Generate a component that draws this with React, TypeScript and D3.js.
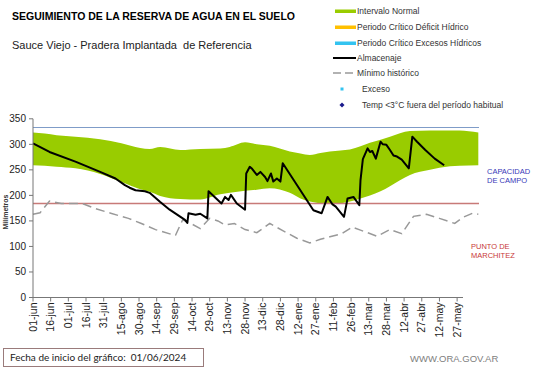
import React, { useEffect, useRef } from "react";
import * as d3 from "d3";

// Chart start date (01/06/2024)
const startDate = new Date(Date.UTC(2024, 5, 1));
const monthNames = ["ene", "feb", "mar", "abr", "may", "jun", "jul", "ago", "sep", "oct", "nov", "dic"];

// Intervalo normal (days since start, upper / lower mm)
const bandDays = [0, 10, 20, 36, 57, 75, 91, 99, 108, 125, 142, 159, 167, 180, 190, 201, 218, 227, 235, 244, 252, 261, 269, 278, 286, 295, 303, 320, 337, 345, 354, 362, 378];
const bandUpper = [323, 321, 318, 315, 310, 302, 293, 291, 295, 289, 291, 292, 295, 304, 300, 297, 286, 282, 279, 283, 286, 288, 290, 296, 303, 309, 315, 326, 327, 327, 327, 327, 323];
const bandLower = [259, 258, 256, 253, 242, 226, 212, 207, 199, 193, 192, 202, 205, 209, 211, 214, 205, 194, 188, 185, 185, 185, 188, 194, 200, 208, 218, 240, 250, 254, 257, 258, 259];

// Almacenaje
const storageDays = [0, 14, 36, 57, 70, 78, 82, 87, 95, 99, 108, 116, 129, 131, 132, 138, 142, 148, 149, 160, 163, 166, 168, 173, 180, 181, 184, 186, 190, 193, 197, 199, 202, 204, 207, 210, 212, 238, 245, 250, 254, 257, 264, 267, 272, 277, 278, 280, 284, 286, 288, 291, 295, 297, 300, 303, 306, 309, 313, 319, 322, 326, 333, 341, 349];
const storageValues = [302, 285, 266, 246, 233, 220, 215, 210, 208, 205, 187, 172, 152, 146, 165, 162, 164, 155, 208, 184, 197, 191, 201, 184, 172, 243, 256, 252, 240, 246, 236, 228, 243, 227, 233, 227, 263, 171, 165, 197, 183, 178, 158, 194, 197, 181, 230, 271, 292, 285, 287, 272, 305, 300, 299, 289, 278, 276, 270, 253, 315, 305, 289, 272, 259];

// Minimo historico
const minDays = [0, 6, 14, 24, 42, 53, 66, 81, 92, 104, 117, 121, 127, 134, 142, 150, 157, 163, 171, 180, 190, 201, 212, 224, 235, 244, 252, 262, 271, 278, 292, 303, 313, 323, 334, 345, 358, 365, 373, 378];
const minValues = [163, 166, 189, 184, 184, 174, 165, 155, 145, 133, 124, 122, 152, 145, 135, 155, 150, 142, 145, 133, 127, 145, 131, 116, 107, 114, 119, 125, 138, 132, 120, 133, 125, 159, 163, 155, 145, 157, 165, 163];

// Reference levels
const fieldCapacity = 333;
const wiltingPoint = 184;

const yTicks = [0, 50, 100, 150, 200, 250, 300, 350];
const xTickDays = d3.range(0, 361, 15);

const legendItems = [
  "Intervalo Normal",
  "Periodo Crítico Déficit Hídrico",
  "Periodo Crítico Excesos Hídricos",
  "Almacenaje",
  "Mínimo histórico",
  "Exceso",
  "Temp <3°C fuera del período habitual",
];

const dayToDate = (d: number) => d3.utcDay.offset(startDate, d);
const fmtTick = (d: Date) =>
  `${String(d.getUTCDate()).padStart(2, "0")}-${monthNames[d.getUTCMonth()]}`;

const App: React.FC = () => {
  const svgRef = useRef<SVGSVGElement | null>(null);

  useEffect(() => {
    const svg = d3.select(svgRef.current);
    svg.selectAll("*").remove();
    const font = "'Liberation Sans', Arial, sans-serif";

    const x = d3
      .scaleUtc()
      .domain([startDate, dayToDate(365)])
      .range([33, 463]);
    const y = d3.scaleLinear().domain([0, 350]).range([297.5, 118.8]);

    // title block
    svg.append("text")
      .attr("x", 12).attr("y", 20)
      .attr("font-family", font).attr("font-weight", "bold").attr("font-size", 10.5)
      .text("SEGUIMIENTO DE LA RESERVA DE AGUA EN EL SUELO");
    svg.append("text")
      .attr("x", 12).attr("y", 49)
      .attr("font-family", font).attr("font-size", 11).attr("fill", "#222")
      .style("white-space", "pre")
      .text("Sauce Viejo - Pradera Implantada  de Referencia");

    // legend
    const lg = svg.append("g").attr("font-family", font).attr("font-size", 8.5).attr("fill", "#333");
    const ly = [11, 27, 43, 58, 73, 89, 105];
    const swatch = ["#99cc00", "#ffc000", "#33c3f0"];
    swatch.forEach((c, i) => {
      lg.append("rect").attr("x", 335).attr("y", ly[i] - 1.5).attr("width", 21).attr("height", 3.5).attr("fill", c);
    });
    lg.append("line").attr("x1", 333).attr("x2", 356).attr("y1", ly[3]).attr("y2", ly[3])
      .attr("stroke", "#000").attr("stroke-width", 2);
    lg.append("line").attr("x1", 333).attr("x2", 356).attr("y1", ly[4]).attr("y2", ly[4])
      .attr("stroke", "#999").attr("stroke-width", 1.5).attr("stroke-dasharray", "8,4");
    lg.append("rect").attr("x", 340.5).attr("y", ly[5] - 1.5).attr("width", 3).attr("height", 3).attr("fill", "#33c3f0");
    lg.append("rect").attr("x", -1.8).attr("y", -1.8).attr("width", 3.6).attr("height", 3.6)
      .attr("transform", `translate(342,${ly[6]}) rotate(45)`).attr("fill", "#1a1a8c");
    legendItems.forEach((t, i) => {
      lg.append("text").attr("x", i < 5 ? 357 : 362).attr("y", ly[i]).attr("dy", "0.35em").text(t);
    });

    // normal interval band
    const area = d3.area<number>()
      .x((_, i) => x(dayToDate(bandDays[i])))
      .y0((_, i) => y(bandLower[i]))
      .y1((_, i) => y(bandUpper[i]))
      .curve(d3.curveMonotoneX);
    svg.append("path").attr("d", area(bandDays)).attr("fill", "#99cc00");

    // reference lines
    svg.append("line")
      .attr("x1", 33).attr("x2", 479)
      .attr("y1", y(fieldCapacity)).attr("y2", y(fieldCapacity))
      .attr("stroke", "#7f9cc8").attr("stroke-width", 1.2);
    svg.append("line")
      .attr("x1", 33).attr("x2", 479)
      .attr("y1", y(wiltingPoint)).attr("y2", y(wiltingPoint))
      .attr("stroke", "#c87a78").attr("stroke-width", 1.4);

    // minimo historico
    const minLine = d3.line<number>()
      .x((d) => x(dayToDate(d)))
      .y((_, i) => y(minValues[i]));
    svg.append("path").attr("d", minLine(minDays))
      .attr("fill", "none").attr("stroke", "#999").attr("stroke-width", 1.5)
      .attr("stroke-dasharray", "9,5");

    // almacenaje
    const storLine = d3.line<number>()
      .x((d) => x(dayToDate(d)))
      .y((_, i) => y(storageValues[i]));
    svg.append("path").attr("d", storLine(storageDays))
      .attr("fill", "none").attr("stroke", "#000").attr("stroke-width", 2)
      .attr("stroke-linejoin", "round");

    // y axis
    const ya = svg.append("g").attr("font-family", font).attr("font-size", 10).attr("fill", "#222");
    ya.append("line").attr("x1", 33).attr("x2", 33).attr("y1", y(350)).attr("y2", y(0)).attr("stroke", "#777");
    yTicks.forEach((v) => {
      ya.append("line").attr("x1", 29).attr("x2", 33).attr("y1", y(v)).attr("y2", y(v)).attr("stroke", "#777");
      ya.append("text").attr("x", 26).attr("y", y(v)).attr("dy", "0.35em").attr("text-anchor", "end").text(v);
    });
    svg.append("text")
      .attr("transform", "translate(8,212) rotate(-90)")
      .attr("text-anchor", "middle")
      .attr("font-family", font).attr("font-size", 7).attr("font-weight", "bold").attr("fill", "#333")
      .text("Milímetros");

    // x axis
    const xa = svg.append("g").attr("font-family", font).attr("font-size", 10.5).attr("fill", "#222");
    xa.append("line").attr("x1", 33).attr("x2", x(dayToDate(365))).attr("y1", y(0)).attr("y2", y(0)).attr("stroke", "#777");
    xTickDays.forEach((d) => {
      const px = x(dayToDate(d));
      xa.append("line").attr("x1", px).attr("x2", px).attr("y1", y(0)).attr("y2", y(0) + 4).attr("stroke", "#777");
      xa.append("text")
        .attr("transform", `translate(${px},${y(0) + 5}) rotate(-90)`)
        .attr("text-anchor", "end").attr("dy", "0.35em")
        .text(fmtTick(dayToDate(d)));
    });

    // right-side labels
    const rl = svg.append("g").attr("font-family", font).attr("font-size", 7.5).style("white-space", "pre");
    rl.append("text").attr("x", 487).attr("y", 174).attr("fill", "#3838b8").text("CAPACIDAD");
    rl.append("text").attr("x", 487).attr("y", 183).attr("fill", "#3838b8").text("DE  CAMPO");
    rl.append("text").attr("x", 471).attr("y", 249).attr("fill", "#c83838").text("PUNTO   DE");
    rl.append("text").attr("x", 471).attr("y", 258).attr("fill", "#c83838").text("MARCHITEZ");

    // footer
    svg.append("rect").attr("x", 3.5).attr("y", 348.5).attr("width", 200).attr("height", 18)
      .attr("fill", "#fff").attr("stroke", "#9a7b7b").attr("stroke-width", 1);
    svg.append("text").attr("x", 10).attr("y", 361)
      .attr("font-family", "Lato, 'Liberation Sans', sans-serif").attr("font-size", 10).attr("fill", "#222")
      .style("white-space", "pre")
      .text("Fecha de inicio del gráfico:  01/06/2024");
    svg.append("text").attr("x", 410).attr("y", 362)
      .attr("font-family", font).attr("font-size", 9.5).attr("fill", "#808080")
      .text("WWW.ORA.GOV.AR");
  }, []);

  return (
    <svg
      ref={svgRef}
      width={541}
      height={368}
      style={{ position: "absolute", left: 0, top: 0, background: "#fff" }}
    />
  );
};

export default App;
